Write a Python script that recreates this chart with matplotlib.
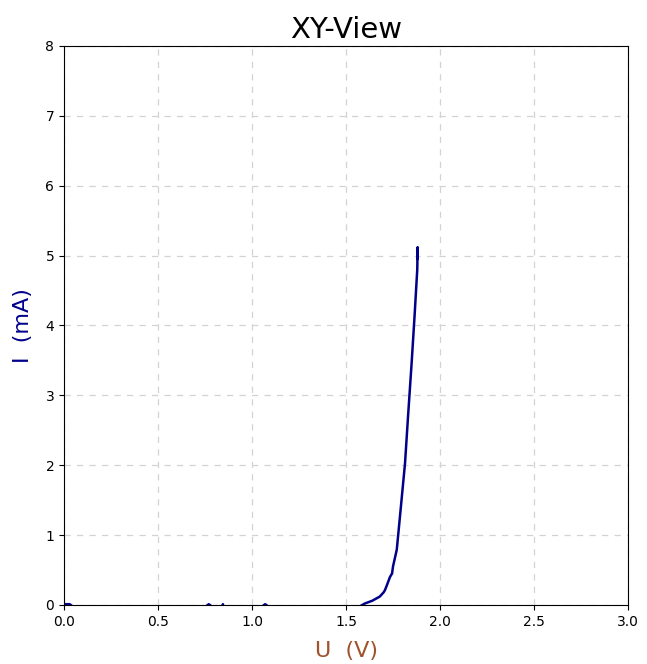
import matplotlib
matplotlib.use("Agg")
import matplotlib.pyplot as plt

# U (V) and I (mA)
u_values = [0.0, 0.03, 0.06, 0.74, 0.77, 0.80, 0.84, 0.845, 0.85, 1.04, 1.07, 1.10, 1.50,
            1.574, 1.60, 1.64, 1.68, 1.70, 1.707, 1.72, 1.734, 1.745, 1.75, 1.77, 1.79,
            1.814, 1.83, 1.849, 1.865, 1.879, 1.881, 1.879, 1.881, 1.880]
i_values = [0.01, 0.01, -0.05, -0.05, 0.01, -0.05, -0.05, 0.01, -0.05, -0.05, 0.01, -0.05, -0.05,
            -0.02, 0.02, 0.06, 0.12, 0.18, 0.21, 0.30, 0.40, 0.45, 0.55, 0.79, 1.35,
            2.03, 2.70, 3.46, 4.15, 4.80, 5.12, 4.95, 5.10, 5.00]

x_ticks = [0.0, 0.5, 1.0, 1.5, 2.0, 2.5, 3.0]
y_ticks = [0, 1, 2, 3, 4, 5, 6, 7, 8]

fig = plt.figure(figsize=(6.47, 6.64), dpi=100)
ax = fig.add_axes([0.099, 0.089, 0.8716, 0.8418])

ax.plot(u_values, i_values, color="#00008b", linewidth=1.8)

ax.set_xlim(0, 3)
ax.set_ylim(0, 8)
ax.set_xticks(x_ticks)
ax.set_yticks(y_ticks)
ax.grid(True, linestyle=(0, (5, 5)), color="#d3d3d3", linewidth=0.9)

ax.set_title("XY-View", fontsize=21)
ax.set_xlabel("U  (V)", fontsize=16, color="#a0522d", labelpad=9)
ax.set_ylabel("I  (mA)", fontsize=16, color="#00008b", labelpad=9)

fig.savefig("out.png", dpi=100)
